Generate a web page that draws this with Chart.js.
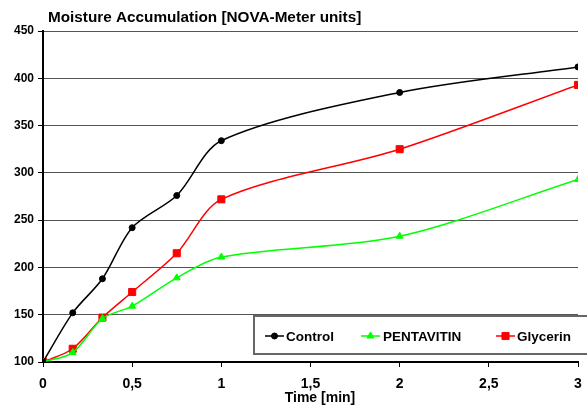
<!DOCTYPE html>
<html>
<head>
<meta charset="utf-8">
<script src="https://cdn.jsdelivr.net/npm/chart.js@4/dist/chart.umd.min.js"></script>
<style>
  html, body { margin: 0; padding: 0; background: #fff; }
  #wrap { width: 587px; height: 407px; }
</style>
</head>
<body>
<div id="wrap"><canvas id="cnvMoisture" width="587" height="407"></canvas></div>
<script>
// time points (min)
const timePoints = [0, 1 / 6, 1 / 3, 0.5, 0.75, 1, 2, 3];
// series values
const controlValues = [100, 152, 188, 242, 276, 334, 385, 412];
const pentavitinValues = [100, 110, 146, 159, 189, 211, 233, 293];
const glycerinValues = [100, 114, 147, 174, 215, 272, 325, 393];
const seriesNames = ['Control', 'PENTAVITIN', 'Glycerin'];
const chartTitle = 'Moisture Accumulation [NOVA-Meter units]';
const xTitle = 'Time [min]';

const FONT = '"Liberation Sans", Arial, sans-serif';

function ToPoints(values) {
    return timePoints.map((t, i) => ({ x: t, y: values[i] }));
}

// draws titles and the legend box inside the plot
const extras = {
    id: 'extras',
    afterDraw(chart) {
        const ctx = chart.ctx;
        ctx.save();
        ctx.fillStyle = '#000';
        ctx.textBaseline = 'middle';
        ctx.textAlign = 'left';
        ctx.font = 'bold 15.3px ' + FONT;
        ctx.fillText(chartTitle, 48, 18);

        ctx.textAlign = 'center';
        ctx.font = 'bold 14px ' + FONT;
        ctx.fillText(xTitle, 320, 398);

        // legend box
        ctx.fillStyle = '#fff';
        ctx.fillRect(253, 315, 334, 40);
        ctx.strokeStyle = '#666';
        ctx.lineWidth = 2;
        ctx.strokeRect(254, 316, 334, 38);

        const items = [
            { x: 265, tx: 286, ds: chart.data.datasets[0] },
            { x: 361, tx: 383, ds: chart.data.datasets[1] },
            { x: 496, tx: 517, ds: chart.data.datasets[2] }
        ];
        const ly = 336;
        items.forEach(it => {
            ctx.strokeStyle = it.ds.borderColor;
            ctx.fillStyle = it.ds.borderColor;
            ctx.lineWidth = 1.5;
            ctx.beginPath();
            ctx.moveTo(it.x, ly);
            ctx.lineTo(it.x + 19, ly);
            ctx.stroke();
            ctx.lineWidth = 1;
            Chart.helpers.drawPoint(ctx, {
                pointStyle: it.ds.pointStyle,
                radius: it.ds.pointRadius,
                borderWidth: 1,
                rotation: 0
            }, it.x + 9.5, ly);
            ctx.fillStyle = '#000';
            ctx.textAlign = 'left';
            ctx.font = 'bold 13.5px ' + FONT;
            ctx.fillText(it.ds.label, it.tx, ly + 1);
        });
        ctx.restore();
    }
};

function BuildDataset(label, values, color, style, radius) {
    return {
        label: label,
        data: ToPoints(values),
        borderColor: color,
        backgroundColor: color,
        pointBackgroundColor: color,
        pointBorderColor: color,
        borderWidth: 1.5,
        pointBorderWidth: 1,
        pointStyle: style,
        pointRadius: radius,
        pointHoverRadius: radius,
        tension: 0.3,
        cubicInterpolationMode: 'default'
    };
}

const canvas = document.querySelector('#cnvMoisture');
new Chart(canvas, {
    type: 'line',
    data: {
        datasets: [
            BuildDataset(seriesNames[0], controlValues, '#000000', 'circle', 3),
            BuildDataset(seriesNames[1], pentavitinValues, '#00ff00', 'triangle', 4),
            BuildDataset(seriesNames[2], glycerinValues, '#ff0000', 'rect', 5)
        ]
    },
    options: {
        responsive: false,
        animation: false,
        layout: { padding: { top: 31, right: 9, left: 0, bottom: 0 } },
        plugins: {
            legend: { display: false },
            tooltip: { enabled: false }
        },
        scales: {
            x: {
                type: 'linear',
                min: 0,
                max: 3,
                afterFit: s => {
                    s.height = 45;
                    s.paddingLeft = 0;
                    s.paddingRight = 0;
                },
                border: { color: '#000', width: 2 },
                grid: { drawOnChartArea: false, tickLength: 5, color: '#000', tickColor: '#000' },
                ticks: {
                    stepSize: 0.5,
                    color: '#000',
                    padding: 9,
                    font: { family: FONT, size: 14, weight: 'bold' },
                    callback: v => String(v).replace('.', ',')
                }
            },
            y: {
                min: 100,
                max: 450,
                afterFit: s => {
                    s.width = 43;
                    s.paddingTop = 0;
                    s.paddingBottom = 0;
                },
                border: { color: '#000', width: 2 },
                grid: { color: '#555', lineWidth: 1, tickLength: 5, tickColor: '#000' },
                ticks: {
                    stepSize: 50,
                    color: '#000',
                    padding: 4,
                    font: { family: FONT, size: 12, weight: 'bold' }
                }
            }
        }
    },
    plugins: [extras]
});
</script>
</body>
</html>
